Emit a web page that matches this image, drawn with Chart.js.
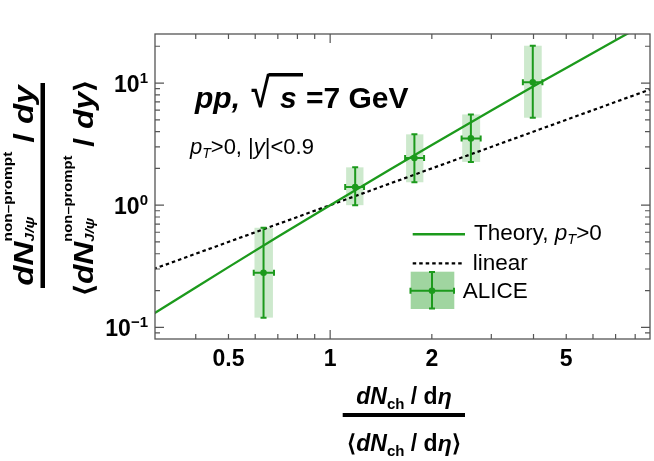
<!DOCTYPE html>
<html>
<head>
<meta charset="utf-8">
<script src="https://cdn.jsdelivr.net/npm/chart.js@4.4.0/dist/chart.umd.min.js"></script>
<style>
    html, body { margin: 0; padding: 0; background: #fff; }
    #wrap { width: 654px; height: 461px; }
</style>
</head>
<body>
<div id="wrap"><canvas id="chart" width="654" height="461"></canvas></div>
<script>
// ALICE non-prompt J/psi yield vs charged multiplicity (both normalised)
const aliceX = [0.635, 1.186, 1.776, 2.61, 3.98];
const aliceY = [0.28, 1.41, 2.43, 3.52, 10.15];
const aliceXLo = [0.594, 1.108, 1.667, 2.45, 3.72];
const aliceXHi = [0.682, 1.26, 1.897, 2.79, 4.25];
const aliceYLo = [0.12, 1.0, 1.54, 2.26, 5.2];
const aliceYHi = [0.653, 2.04, 3.80, 5.53, 20.2];
const sysXLo = [0.597, 1.115, 1.678, 2.46, 3.75];
const sysXHi = [0.677, 1.255, 1.888, 2.78, 4.23];

// theory curve, pT > 0
const theoryX = [0.3, 0.4, 0.5, 0.7, 1, 1.5, 2, 3, 4, 5, 7, 9];
const theoryY = [0.129, 0.212, 0.311, 0.551, 1.0, 1.95, 3.11, 5.97, 9.41, 13.3, 22.4, 33.0];

// linear reference
const linearX = [0.3, 9];
const linearY = [0.3, 9];

// axes
const xMin = 0.303, xMax = 8.85;
const yMin = 0.0802, yMax = 25.2;
const xTickValues = [0.4, 0.5, 0.6, 0.7, 0.8, 0.9, 1, 2, 3, 4, 5, 6, 7, 8];
const xLabelValues = [0.5, 1, 2, 5];
const xLabelTexts = ['0.5', '1', '2', '5'];
const yTickValues = [0.09, 0.1, 0.2, 0.3, 0.4, 0.5, 0.6, 0.7, 0.8, 0.9, 1, 2, 3, 4, 5, 6, 7, 8, 9, 10, 20];
const yLabelValues = [0.1, 1, 10];
const yLabelExps = ['\u22121', '0', '1'];

const GREEN = '#1c9a1c';
const BOX_FILL = 'rgba(28,154,28,0.22)';
const LEGEND_FILL = 'rgba(28,154,28,0.42)';
const FF = '"Liberation Sans", Arial, Helvetica, sans-serif';
const font = (style, size) => `${style} ${size}px ${FF}`;

const toPoints = (xs, ys) => xs.map((x, i) => ({ x: x, y: ys[i] }));

function runsWidth(ctx, runs) {
    let w = 0;
    runs.forEach(r => {
        ctx.font = r.font;
        if (!r.stack) w += ctx.measureText(r.t).width + (r.gap || 0);
    });
    return w;
}

function drawRuns(ctx, x, y, runs) {
    let cx = x;
    runs.forEach(r => {
        ctx.font = r.font;
        ctx.fillText(r.t, cx, y + (r.dy || 0));
        if (!r.stack) cx += ctx.measureText(r.t).width + (r.gap || 0);
    });
    return cx;
}

// rotated text centred on (cx, cy), stretched along its own direction
function drawRotated(ctx, cx, cy, runs, stretch) {
    ctx.save();
    ctx.translate(cx, cy);
    ctx.rotate(-Math.PI / 2);
    ctx.scale(stretch, 1);
    drawRuns(ctx, -runsWidth(ctx, runs) / 2, 0, runs);
    ctx.restore();
}

function errorCross(ctx, cx, cy, x0, x1, y0, y1) {
    ctx.strokeStyle = GREEN;
    ctx.lineWidth = 2;
    ctx.beginPath();
    ctx.moveTo(x0, cy); ctx.lineTo(x1, cy);
    ctx.moveTo(x0, cy - 3); ctx.lineTo(x0, cy + 3);
    ctx.moveTo(x1, cy - 3); ctx.lineTo(x1, cy + 3);
    ctx.moveTo(cx, y0); ctx.lineTo(cx, y1);
    ctx.moveTo(cx - 3, y0); ctx.lineTo(cx + 3, y0);
    ctx.moveTo(cx - 3, y1); ctx.lineTo(cx + 3, y1);
    ctx.stroke();
}

const decorPlugin = {
    id: 'decor',
    beforeDatasetsDraw: (chart) => {
        // systematic boxes under the curves
        const { ctx, chartArea, scales: { x, y } } = chart;
        ctx.save();
        ctx.beginPath();
        ctx.rect(chartArea.left, chartArea.top, chartArea.right - chartArea.left, chartArea.bottom - chartArea.top);
        ctx.clip();
        ctx.fillStyle = BOX_FILL;
        aliceX.forEach((v, i) => {
            const l = x.getPixelForValue(sysXLo[i]);
            const r = x.getPixelForValue(sysXHi[i]);
            const t = y.getPixelForValue(aliceYHi[i]);
            const b = y.getPixelForValue(aliceYLo[i]);
            ctx.fillRect(l, t, r - l, b - t);
        });
        ctx.restore();
    },
    afterDatasetsDraw: (chart) => {
        const { ctx, scales: { x, y } } = chart;
        ctx.save();
        aliceX.forEach((v, i) => {
            errorCross(ctx, x.getPixelForValue(v), y.getPixelForValue(aliceY[i]),
                x.getPixelForValue(aliceXLo[i]), x.getPixelForValue(aliceXHi[i]),
                y.getPixelForValue(aliceYHi[i]), y.getPixelForValue(aliceYLo[i]));
        });
        ctx.restore();
    },
    afterDraw: (chart) => {
        const { ctx, chartArea: a, scales: { x, y } } = chart;
        ctx.save();

        // frame
        ctx.strokeStyle = '#555';
        ctx.lineWidth = 1.3;
        ctx.strokeRect(a.left, a.top, a.right - a.left, a.bottom - a.top);

        // inward ticks on all four sides
        const isDecade = v => Math.abs(Math.log10(v) - Math.round(Math.log10(v))) < 1e-9;
        ctx.lineWidth = 1.2;
        ctx.beginPath();
        xTickValues.forEach(v => {
            const px = x.getPixelForValue(v);
            const len = isDecade(v) ? 9 : 5;
            ctx.moveTo(px, a.bottom); ctx.lineTo(px, a.bottom - len);
            ctx.moveTo(px, a.top); ctx.lineTo(px, a.top + len);
        });
        yTickValues.forEach(v => {
            const py = y.getPixelForValue(v);
            const len = isDecade(v) ? 9 : 5;
            ctx.moveTo(a.left, py); ctx.lineTo(a.left + len, py);
            ctx.moveTo(a.right, py); ctx.lineTo(a.right - len, py);
        });
        ctx.stroke();

        ctx.fillStyle = '#000';
        ctx.textBaseline = 'alphabetic';

        // x tick labels
        ctx.textAlign = 'center';
        ctx.font = font('bold', 23);
        xLabelValues.forEach((v, i) => {
            ctx.fillText(xLabelTexts[i], x.getPixelForValue(v), 366);
        });

        // y tick labels 10^n
        ctx.textAlign = 'left';
        yLabelValues.forEach((v, i) => {
            const runs = [
                { t: '10', font: font('bold', 23) },
                { t: yLabelExps[i], font: font('bold', 15), dy: -9 }
            ];
            const w = runsWidth(ctx, runs);
            drawRuns(ctx, 148 - w, y.getPixelForValue(v) + 8.5, runs);
        });

        // x axis title (fraction)
        const xNum = [
            { t: 'd', font: font('italic bold', 23) },
            { t: 'N', font: font('italic bold', 23) },
            { t: 'ch', font: font('bold', 15), dy: 5 },
            { t: ' / ', font: font('bold', 23) },
            { t: 'd', font: font('bold', 23) },
            { t: '\u03b7', font: font('italic bold', 23) }
        ];
        const xDen = [{ t: '\u27e8', font: font('bold', 23) }].concat(xNum, [{ t: '\u27e9', font: font('bold', 23) }]);
        const xcx = 404;
        drawRuns(ctx, xcx - runsWidth(ctx, xNum) / 2, 404, xNum);
        drawRuns(ctx, xcx - runsWidth(ctx, xDen) / 2, 451, xDen);
        ctx.fillRect(342.7, 413, 122.3, 4);

        // y axis title (rotated fraction)
        const yNum = [
            { t: 'd', font: font('italic bold', 27) },
            { t: 'N', font: font('italic bold', 27) },
            { t: 'J/\u03c8', font: font('italic bold', 12.5), dy: 1, stack: true },
            { t: 'non\u2013prompt', font: font('bold', 12.5), dy: -21 },
            { t: ' / ', font: font('bold', 27) },
            { t: 'dy', font: font('italic bold', 27) }
        ];
        const yDen = [{ t: '\u27e8', font: font('bold', 26) }].concat(yNum, [{ t: '\u27e9', font: font('bold', 26) }]);
        drawRotated(ctx, 33, 185.5, yNum, 1.23);
        drawRotated(ctx, 93, 188, yDen, 1.18);
        ctx.fillRect(40.5, 83, 4.5, 205);

        // annotation: pp, sqrt(s) = 7 GeV
        drawRuns(ctx, 195, 107.7, [{ t: 'pp,', font: font('italic bold', 30) }]);
        ctx.font = font('bold', 30);
        const rm = ctx.measureText('\u221a');
        const gw = rm.actualBoundingBoxLeft + rm.actualBoundingBoxRight;
        const gh = rm.actualBoundingBoxAscent + rm.actualBoundingBoxDescent;
        const sx = 19 / gw, sy = 35 / gh;
        ctx.save();
        ctx.translate(251.5, 73);
        ctx.scale(sx, sy);
        ctx.fillText('\u221a', rm.actualBoundingBoxLeft, rm.actualBoundingBoxAscent);
        ctx.restore();
        ctx.fillRect(268.5, 73, 34.5, 3.5);
        drawRuns(ctx, 280, 107.7, [{ t: 's', font: font('italic bold', 30) }]);
        drawRuns(ctx, 306, 107.7, [{ t: '=7 GeV', font: font('bold', 30) }]);

        // pT>0, |y|<0.9
        drawRuns(ctx, 190, 153.5, [
            { t: 'p', font: font('italic', 22) },
            { t: 'T', font: font('italic', 14), dy: 4 },
            { t: '>0, |', font: font('', 22) },
            { t: 'y', font: font('italic', 22) },
            { t: '|<0.9', font: font('', 22) }
        ]);

        // legend
        ctx.strokeStyle = GREEN;
        ctx.lineWidth = 2.5;
        ctx.beginPath();
        ctx.moveTo(412.7, 234.3); ctx.lineTo(465, 234.3);
        ctx.stroke();
        ctx.strokeStyle = '#000';
        ctx.lineWidth = 2.2;
        ctx.setLineDash([3.5, 3]);
        ctx.beginPath();
        ctx.moveTo(412.7, 263.3); ctx.lineTo(462, 263.3);
        ctx.stroke();
        ctx.setLineDash([]);
        ctx.fillStyle = LEGEND_FILL;
        ctx.fillRect(410.7, 271.7, 43.6, 37.3);
        errorCross(ctx, 432, 290.7, 410.5, 454, 272, 308.5);
        ctx.fillStyle = GREEN;
        ctx.beginPath();
        ctx.arc(432, 290.7, 3.3, 0, Math.PI * 2);
        ctx.fill();

        ctx.fillStyle = '#000';
        drawRuns(ctx, 474, 239.5, [
            { t: 'Theory, ', font: font('', 22.5) },
            { t: 'p', font: font('italic', 22.5) },
            { t: 'T', font: font('italic', 14.5), dy: 4 },
            { t: '>0', font: font('', 22.5) }
        ]);
        drawRuns(ctx, 472.7, 270, [{ t: 'linear', font: font('', 22.5) }]);
        drawRuns(ctx, 462.7, 297.5, [{ t: 'ALICE', font: font('', 22.5) }]);

        ctx.restore();
    }
};

const chart = new Chart(document.getElementById('chart'), {
    type: 'scatter',
    data: {
        datasets: [
            {
                label: 'ALICE',
                data: toPoints(aliceX, aliceY),
                pointRadius: 3.3,
                pointBackgroundColor: GREEN,
                pointBorderWidth: 0
            },
            {
                label: 'Theory, pT>0',
                type: 'line',
                data: toPoints(theoryX, theoryY),
                borderColor: GREEN,
                borderWidth: 2.3,
                pointRadius: 0,
                fill: false
            },
            {
                label: 'linear',
                type: 'line',
                data: toPoints(linearX, linearY),
                borderColor: '#000',
                borderWidth: 2.2,
                borderDash: [3.5, 3],
                pointRadius: 0,
                fill: false
            }
        ]
    },
    options: {
        responsive: false,
        animation: false,
        layout: { padding: { left: 155, right: 4, top: 34, bottom: 122 } },
        plugins: {
            legend: { display: false },
            tooltip: { enabled: false }
        },
        scales: {
            x: { type: 'logarithmic', min: xMin, max: xMax, bounds: 'data', display: false },
            y: { type: 'logarithmic', min: yMin, max: yMax, bounds: 'data', display: false }
        }
    },
    plugins: [decorPlugin]
});
</script>
</body>
</html>
